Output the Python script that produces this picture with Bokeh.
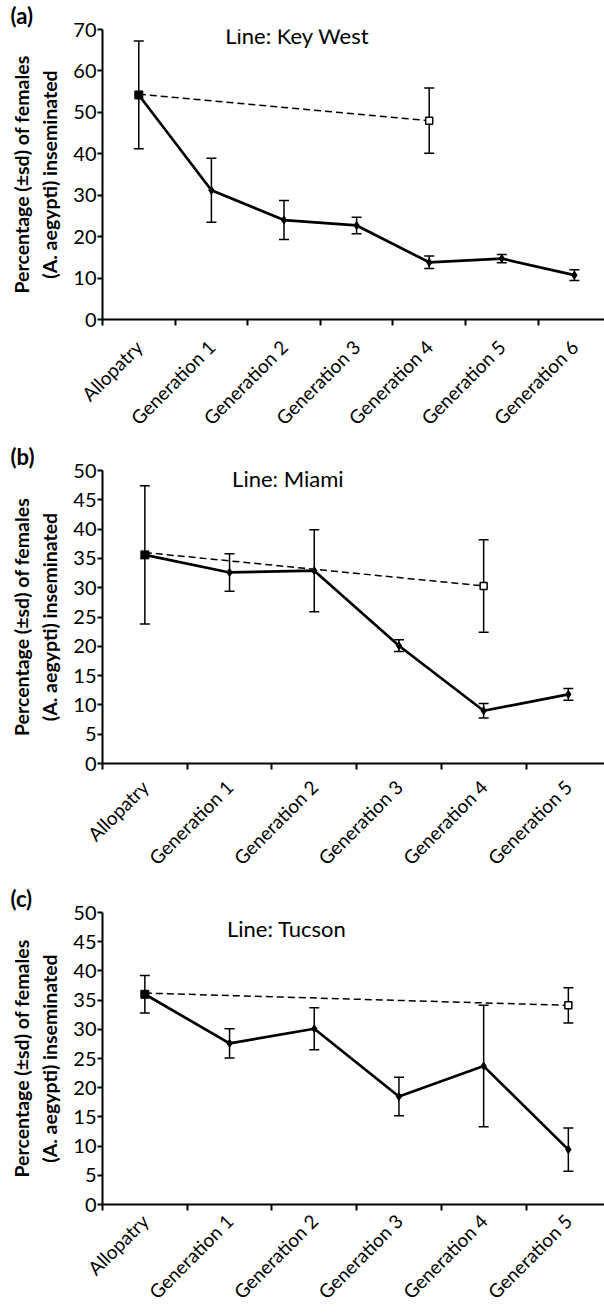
from bokeh.plotting import figure
from bokeh.models import (Range1d, FixedTicker, CustomJSTickFormatter, ColumnDataSource,
                          Whisker, TeeHead, Label, Title)
from bokeh.layouts import column
from bokeh.embed import file_html
from bokeh.resources import INLINE

# ---------------- data ----------------
kw_cats = ["Allopatry", "Generation 1", "Generation 2", "Generation 3",
           "Generation 4", "Generation 5", "Generation 6"]
kw_mean = [54.2, 31.2, 24.0, 22.7, 13.8, 14.7, 10.7]
kw_sd = [13.0, 7.7, 4.7, 2.0, 1.5, 1.0, 1.3]
kw_sym_cats = ["Allopatry", "Generation 4"]
kw_sym_mean = [54.4, 48.0]
kw_sym_sd = [13.0, 7.9]

mi_cats = ["Allopatry", "Generation 1", "Generation 2", "Generation 3",
           "Generation 4", "Generation 5"]
mi_mean = [35.6, 32.6, 32.9, 20.1, 9.0, 11.8]
mi_sd = [11.8, 3.2, 7.0, 1.0, 1.25, 1.0]
mi_sym_cats = ["Allopatry", "Generation 4"]
mi_sym_mean = [36.0, 30.3]
mi_sym_sd = [11.8, 7.9]

tu_cats = ["Allopatry", "Generation 1", "Generation 2", "Generation 3",
           "Generation 4", "Generation 5"]
tu_mean = [36.0, 27.6, 30.1, 18.5, 23.7, 9.4]
tu_sd = [3.2, 2.5, 3.6, 3.3, 10.4, 3.7]
tu_sym_cats = ["Allopatry", "Generation 5"]
tu_sym_mean = [36.2, 34.1]
tu_sym_sd = [3.2, 3.0]

y_label = "Percentage (\u00b1sd) of females\n(A. aegypti) inseminated"
FONT = "Lato"
FRAME_W = 502


def make_panel(tag, title, cats, mean, sd, sym_cats, sym_mean, sym_sd,
               ymax, ystep, cat_w, height, btop, bbottom, title_xy, lab_off):
    xend = FRAME_W / cat_w
    p = figure(width=604, height=height, output_backend="svg", toolbar_location=None,
               x_range=Range1d(0, xend), y_range=Range1d(0, ymax),
               min_border_left=102, min_border_right=0,
               min_border_top=btop, min_border_bottom=bbottom)
    p.title = Title(text=tag, align="left", offset=-92, standoff=0,
                    text_font=FONT, text_font_style="bold", text_font_size="22px",
                    text_color="black", vertical_align="middle")
    p.outline_line_color = None
    p.xgrid.visible = False
    p.ygrid.visible = False
    p.background_fill_color = "white"
    p.border_fill_color = "white"

    pos = {c: i + 0.5 for i, c in enumerate(cats)}
    xs = [pos[c] for c in cats]
    sx = [pos[c] for c in sym_cats]

    # x axis: labels at category centres, ticks at boundaries
    xa = p.xaxis[0]
    xa.ticker = FixedTicker(ticks=xs, minor_ticks=list(range(len(cats) + 1)))
    xa.formatter = CustomJSTickFormatter(args=dict(cats=cats), code="""
        const i = Math.floor(tick);
        return (i >= 0 && i < cats.length) ? cats[i] : '';""")
    xa.major_tick_out = 0
    xa.major_tick_in = 0
    xa.minor_tick_out = 6
    xa.minor_tick_in = 0
    xa.minor_tick_line_width = 2
    xa.axis_line_width = 2
    xa.major_label_orientation = 0.785398
    xa.major_label_standoff = lab_off
    xa.major_label_text_font = FONT
    xa.major_label_text_font_size = "19px"
    xa.major_label_text_color = "black"

    ya = p.yaxis[0]
    ya.ticker = FixedTicker(ticks=list(range(0, ymax + 1, ystep)))
    ya.minor_tick_out = 0
    ya.minor_tick_in = 0
    ya.major_tick_out = 5
    ya.major_tick_in = 0
    ya.major_tick_line_width = 2
    ya.axis_line_width = 2
    ya.major_label_standoff = 1
    ya.major_label_text_font = FONT
    ya.major_label_text_font_size = "20px"
    ya.major_label_text_color = "black"
    ya.axis_label = y_label
    ya.axis_label_text_font = FONT
    ya.axis_label_text_font_style = "bold"
    ya.axis_label_text_font_size = "19.5px"
    ya.axis_label_text_line_height = 1.25
    ya.axis_label_standoff = 9
    ya.axis_label_text_color = "black"

    # dashed sympatric-control series
    p.line(sx, sym_mean, line_color="black", line_width=1.5, line_dash="7 4")
    src_s = ColumnDataSource(dict(x=sx[1:], lo=[m - s for m, s in zip(sym_mean[1:], sym_sd[1:])],
                                  hi=[m + s for m, s in zip(sym_mean[1:], sym_sd[1:])]))
    p.add_layout(Whisker(source=src_s, base="x", lower="lo", upper="hi", line_width=1.5,
                         upper_head=TeeHead(size=10, line_width=1.5),
                         lower_head=TeeHead(size=10, line_width=1.5)))

    # main series
    src = ColumnDataSource(dict(x=xs, lo=[m - s for m, s in zip(mean, sd)],
                                hi=[m + s for m, s in zip(mean, sd)]))
    p.add_layout(Whisker(source=src, base="x", lower="lo", upper="hi", line_width=1.5,
                         upper_head=TeeHead(size=10, line_width=1.5),
                         lower_head=TeeHead(size=10, line_width=1.5)))
    p.line(xs, mean, line_color="black", line_width=2.7)
    p.scatter(xs[1:], mean[1:], marker="diamond", size=8, color="black")
    p.scatter(xs[:1], mean[:1], marker="square", size=8, color="black")
    p.scatter(sx[1:], sym_mean[1:], marker="square", size=7, fill_color="white",
              line_color="black", line_width=1.5)

    p.add_layout(Label(x=title_xy[0], y=title_xy[1], text=title, text_font=FONT,
                       text_font_size="22px", text_align="left", text_baseline="middle",
                       text_color="black"))
    return p


pa = make_panel("(a)", "Line: Key West", kw_cats, kw_mean, kw_sd, kw_sym_cats, kw_sym_mean,
                kw_sym_sd, 70, 10, 72.6, 440, 28, 121, (1.69, 68.6), 18)
pb = make_panel("(b)", "Line: Miami", mi_cats, mi_mean, mi_sd, mi_sym_cats, mi_sym_mean,
                mi_sym_sd, 50, 5, 84.7, 440, 30, 117, (1.53, 48.7), 14)
pc = make_panel("(c)", "Line: Tucson", tu_cats, tu_mean, tu_sd, tu_sym_cats, tu_sym_mean,
                tu_sym_sd, 50, 5, 84.7, 434, 32, 110, (1.47, 47.3), 7)

layout = column(pa, pb, pc, spacing=0)
open("out.html", "w").write(file_html(layout, INLINE))
